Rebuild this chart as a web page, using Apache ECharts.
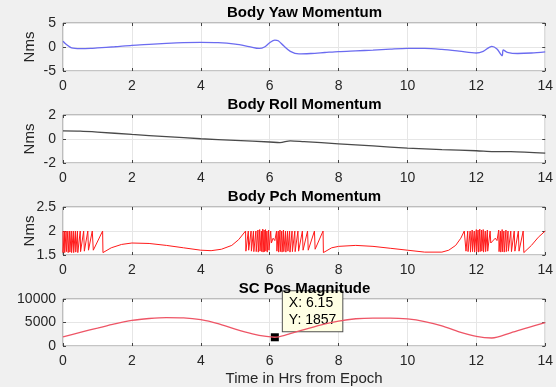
<!DOCTYPE html>
<html>
<head>
<meta charset="utf-8">
<script src="https://cdn.jsdelivr.net/npm/echarts@6/dist/echarts.min.js"></script>
<style>
  html, body { margin: 0; padding: 0; background: #f0f0f0; }
  #chart { width: 556px; height: 387px; }
</style>
</head>
<body>
<div id="chart"></div>
<script>
const titles = ['Body Yaw Momentum', 'Body Roll Momentum', 'Body Pch Momentum', 'SC Pos Magnitude'];
const yUnits = ['Nms', 'Nms', 'Nms', ''];
const xName = 'Time in Hrs from Epoch';
const xTicks = [0, 2, 4, 6, 8, 10, 12, 14];
const yTicks = [[-5, 0, 5], [-2, 0, 2], [1.5, 2, 2.5], [0, 5000, 10000]];

// [hours, value]
const yawPts = [
  [0, 1.2], [0.1, 0.5], [0.25, -0.2], [0.5, -0.35], [0.8, -0.3], [1.0, -0.2], [1.5, 0.05],
  [2.0, 0.35], [2.5, 0.55], [3.0, 0.75], [3.5, 0.9], [4.0, 0.95], [4.5, 0.9], [5.0, 0.6],
  [5.4, 0.1], [5.7, -0.3], [5.85, 0], [6.0, 0.9], [6.15, 1.45], [6.25, 1.3], [6.4, 0.3],
  [6.6, -0.9], [6.85, -1.45], [7.2, -1.35], [7.6, -1.15], [8.0, -0.95], [8.5, -0.8],
  [9.0, -0.65], [9.5, -0.45], [10.0, -0.3], [10.5, -0.3], [11.0, -0.5], [11.5, -0.85],
  [12.0, -1.25], [12.2, -0.9], [12.45, 0.15], [12.6, -0.4], [12.75, -1.8], [12.78, -0.6],
  [12.9, -1.1], [13.2, -1.35], [13.6, -1.25], [14.0, -1.0]
];
const rollPts = [
  [0, 0.68], [0.5, 0.66], [1, 0.58], [2, 0.38], [3, 0.2], [4, 0.02], [5, -0.12], [6, -0.25],
  [6.3, -0.3], [6.6, -0.15], [7, -0.22], [8, -0.4], [9, -0.58], [10, -0.76], [11, -0.88],
  [12, -0.98], [12.5, -1.05], [13, -1.06], [14, -1.18]
];
const pchPts = [
  [0, 2.0], [0, 1.55], [0.04, 2.0], [0.05, 1.55], [0.09, 2.0], [0.1, 1.57], [0.14, 2.0], [0.15, 1.55],
  [0.19, 2.0], [0.2, 1.56], [0.24, 2.0], [0.25, 1.55], [0.3, 2.0], [0.31, 1.55], [0.36, 2.0], [0.37, 1.56],
  [0.42, 2.0], [0.43, 1.55], [0.5, 2.0], [0.51, 1.57], [0.6, 2.0], [0.62, 1.58], [0.72, 2.0], [0.74, 1.6],
  [0.85, 2.0], [0.88, 1.6], [1.15, 2.0], [1.16, 1.55],
  [1.4, 1.65], [1.7, 1.72], [2.0, 1.75], [2.5, 1.74], [3.0, 1.7], [3.5, 1.65], [4.0, 1.6], [4.3, 1.59],
  [4.6, 1.62], [4.9, 1.7], [5.1, 1.82], [5.3, 2.0], [5.31, 1.58],
  [5.38, 2.0], [5.39, 1.6], [5.46, 2.0], [5.47, 1.58], [5.53, 2.0], [5.54, 1.57], [5.6, 2.0], [5.61, 1.57],
  [5.66, 2.02], [5.67, 1.56], [5.71, 2.03], [5.72, 1.58], [5.76, 2.0], [5.77, 1.57], [5.8, 2.04], [5.81, 1.56],
  [5.84, 2.02], [5.85, 1.57], [5.88, 2.03], [5.89, 1.58], [5.92, 2.0], [5.93, 1.56], [5.97, 2.02], [5.98, 1.6],
  [6.03, 2.0], [6.05, 1.75], [6.1, 1.85], [6.15, 1.8],
  [6.2, 2.0], [6.21, 1.58], [6.25, 2.0], [6.26, 1.56], [6.3, 2.02], [6.31, 1.57], [6.35, 2.0], [6.36, 1.56],
  [6.4, 2.02], [6.41, 1.57], [6.46, 2.0], [6.47, 1.56], [6.52, 2.0], [6.53, 1.58], [6.58, 2.0], [6.59, 1.56],
  [6.65, 2.0], [6.66, 1.57], [6.73, 2.0], [6.74, 1.57], [6.82, 2.0], [6.84, 1.58], [6.95, 2.0], [6.97, 1.6],
  [7.1, 2.0], [7.12, 1.6], [7.3, 2.0], [7.32, 1.62], [7.55, 2.0], [7.56, 1.55],
  [7.8, 1.65], [8.0, 1.68], [8.5, 1.7], [9.0, 1.68], [9.5, 1.64], [10.0, 1.6], [10.5, 1.56], [11.0, 1.56],
  [11.2, 1.6], [11.4, 1.7], [11.55, 1.85], [11.65, 2.0],
  [11.7, 1.58], [11.75, 2.0], [11.76, 1.57], [11.82, 2.0], [11.83, 1.56], [11.88, 2.02], [11.89, 1.57],
  [11.94, 2.0], [11.95, 1.56], [12.0, 2.03], [12.01, 1.57], [12.05, 2.02], [12.06, 1.56], [12.1, 2.04],
  [12.11, 1.57], [12.15, 2.02], [12.16, 1.58], [12.2, 2.03], [12.21, 1.56], [12.26, 2.0], [12.27, 1.57],
  [12.32, 2.02], [12.33, 1.58], [12.4, 2.0], [12.42, 1.75], [12.55, 1.85], [12.6, 1.8],
  [12.65, 2.02], [12.66, 1.57], [12.7, 2.0], [12.71, 1.56], [12.75, 2.03], [12.76, 1.57], [12.8, 2.0],
  [12.81, 1.56], [12.86, 2.02], [12.87, 1.57], [12.92, 2.0], [12.93, 1.58], [13.0, 2.0], [13.02, 1.57],
  [13.1, 2.0], [13.12, 1.58], [13.22, 2.0], [13.24, 1.58], [13.36, 2.0], [13.38, 1.55],
  [13.6, 1.7], [13.8, 1.87], [14.0, 2.0]
];
const posPts = [
  [0, 1950], [0.5, 2900], [1, 3800], [1.5, 4700], [2, 5450], [2.5, 5850], [3, 6050], [3.5, 6000],
  [4, 5620], [4.5, 4770], [5, 3600], [5.5, 2600], [5.9, 2030], [6.15, 1857], [6.5, 2400], [7, 3500],
  [7.5, 4500], [8, 5300], [8.5, 5800], [9, 5950], [9.5, 5950], [10, 5750], [10.5, 5200], [11, 4300],
  [11.5, 3000], [12, 2030], [12.45, 1700], [13, 2800], [13.5, 3900], [14, 4970]
];
const tipX = 6.15;
const tipY = 1857;

const font = "'Liberation Sans', Arial, sans-serif";
const tops = [23, 115, 207, 299];
const colors = ['#6b6bf0', '#4a4a4a', '#ff1a1a', '#ee5566'];
const seriesData = [yawPts, rollPts, pchPts, posPts];

const chart = echarts.init(document.getElementById('chart'), null, { renderer: 'canvas' });

const grid = tops.map((t) => ({
  left: 63, right: 10, top: t, height: 48,
  show: true, backgroundColor: '#fff', borderColor: '#8a8a8a', borderWidth: 1
}));

const tickStyle = { inside: true, length: 3, lineStyle: { color: '#444' } };
const noLine = { show: false, onZero: false };
const xAxis = [];
const yAxis = [];
tops.forEach((t, i) => {
  const xScale = { type: 'value', gridIndex: i, min: xTicks[0], max: xTicks[xTicks.length - 1], interval: xTicks[1] - xTicks[0] };
  xAxis.push({
    ...xScale,
    axisLine: noLine,
    axisTick: tickStyle,
    axisLabel: { margin: 8, fontSize: 14, color: '#262626', fontFamily: font },
    splitLine: { show: true, lineStyle: { color: '#e6e6e6' } },
    name: i === 3 ? xName : '',
    nameLocation: 'middle',
    nameGap: 25,
    nameMoveOverlap: false,
    nameTextStyle: { fontSize: 15, color: '#262626', fontFamily: font }
  });
  xAxis.push({
    ...xScale, position: 'top',
    axisLine: noLine, axisTick: tickStyle,
    axisLabel: { show: false }, splitLine: { show: false }
  });
  const yt = yTicks[i];
  const yScale = { type: 'value', gridIndex: i, min: yt[0], max: yt[yt.length - 1], interval: yt[1] - yt[0] };
  yAxis.push({
    ...yScale,
    axisLine: noLine,
    axisTick: tickStyle,
    axisLabel: { margin: 7, fontSize: 14, color: '#262626', fontFamily: font, formatter: (v) => String(v) },
    splitLine: { show: true, lineStyle: { color: '#e6e6e6' } },
    name: yUnits[i],
    nameLocation: 'middle',
    nameGap: 26,
    nameMoveOverlap: false,
    nameTextStyle: { fontSize: 15, color: '#262626', fontFamily: font }
  });
  yAxis.push({
    ...yScale, position: 'right',
    axisLine: noLine, axisTick: tickStyle,
    axisLabel: { show: false }, splitLine: { show: false }
  });
});

const series = seriesData.map((d, i) => ({
  type: 'line',
  xAxisIndex: 2 * i,
  yAxisIndex: 2 * i,
  data: d,
  showSymbol: false,
  smooth: i === 2 ? false : 0.3,
  silent: true,
  lineStyle: { color: colors[i], width: i === 2 ? 1 : 1.3 },
  z: i === 3 ? 10 : 2
}));

series[3].markPoint = {
  silent: true,
  symbol: 'rect',
  symbolSize: 8,
  itemStyle: { color: '#000' },
  data: [{ coord: [tipX, tipY] }],
  label: {
    show: true,
    position: [12, -42],
    align: 'left',
    verticalAlign: 'top',
    formatter: 'X: ' + tipX + '\nY: ' + tipY,
    fontSize: 14,
    lineHeight: 17,
    color: '#000',
    fontFamily: font,
    backgroundColor: '#ffffe4',
    borderColor: '#505050',
    borderWidth: 1,
    padding: [3, 6]
  }
};

chart.setOption({
  animation: false,
  backgroundColor: '#f0f0f0',
  title: titles.map((t, i) => ({
    text: t, left: 304.5, top: 5.5 + 92 * i, textAlign: 'center', padding: 0,
    textStyle: { fontSize: 15, fontWeight: 'bold', color: '#000', fontFamily: font }
  })),
  grid: grid,
  xAxis: xAxis,
  yAxis: yAxis,
  series: series
});
</script>
</body>
</html>
